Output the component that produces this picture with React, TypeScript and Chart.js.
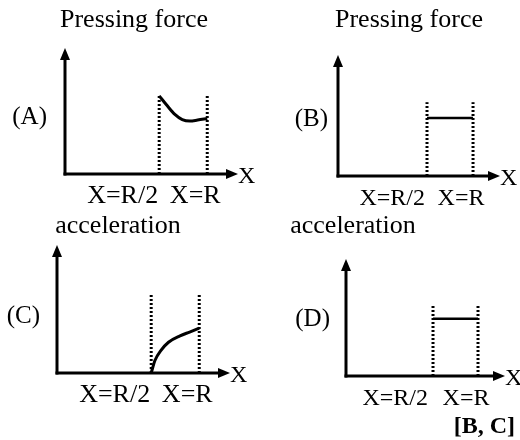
import { useEffect, useRef } from "react";
import { Chart, registerables } from "chart.js";

Chart.register(...registerables);

const SERIF = "'Liberation Serif', 'Times New Roman', Times, serif";

// ---- data ----
const panelTags = ["(A)", "(B)", "(C)", "(D)"];
const panelTitles = ["Pressing force", "Pressing force", "acceleration", "acceleration"];
const tickValues = [0.5, 1];
const tickLabels = ["X=R/2", "X=R"];
const axisName = "X";
const answerText = "[B, C]";

// (A) pressing force falling then levelling off between R/2 and R
const forceCurveX = [0.5, 0.58, 0.66, 0.74, 0.82, 0.9, 1.0];
const forceCurveY = [6.2, 5.45, 4.75, 4.32, 4.2, 4.28, 4.4];
// (B) constant pressing force
const forceLevelX = [0.5, 1.0];
const forceLevelY = [4.8, 4.8];
// (C) acceleration rising from zero
const accelCurveX = [0.5, 0.54, 0.6, 0.68, 0.8, 0.9, 1.0];
const accelCurveY = [0, 1.0, 1.75, 2.4, 2.9, 3.2, 3.5];
// (D) constant acceleration
const accelLevelX = [0.5, 1.0];
const accelLevelY = [4.9, 4.9];
// height of the dotted boundary lines at X=R/2 and X=R
const boundaryTops = [6.2, 6.1, 6.1, 6.15];

const seriesX = [forceCurveX, forceLevelX, accelCurveX, accelLevelX];
const seriesY = [forceCurveY, forceLevelY, accelCurveY, accelLevelY];

// ---- layout (page pixels) ----
type Layout = {
  left: number; top: number; width: number; height: number;
  axisX: number; axisTop: number; axisY: number; axisEnd: number;
  xMin: number; xMax: number;
  titleX: number; titleY: number;
  tagRight: number;
  tickFont: number;
  firstTickGap: number;
  smooth: boolean; lineWidth: number;
  footer: boolean;
};

const layouts: Layout[] = [
  { left: 0, top: 0, width: 260, height: 210, axisX: 65, axisTop: 48, axisY: 174, axisEnd: 238,
    xMin: -0.48, xMax: 1.32, titleX: 134, titleY: 27, tagRight: 47, tickFont: 26, firstTickGap: 1,
    smooth: true, lineWidth: 3, footer: false },
  { left: 260, top: 0, width: 260, height: 210, axisX: 338, axisTop: 55, axisY: 176, axisEnd: 500,
    xMin: -0.467, xMax: 1.293, titleX: 409, titleY: 27, tagRight: 328, tickFont: 24, firstTickGap: 2,
    smooth: false, lineWidth: 2.5, footer: false },
  { left: 0, top: 210, width: 260, height: 230, axisX: 57, axisTop: 245, axisY: 373, axisEnd: 230,
    xMin: -0.48, xMax: 1.32, titleX: 118, titleY: 233, tagRight: 40, tickFont: 26, firstTickGap: 1,
    smooth: true, lineWidth: 3, footer: false },
  { left: 260, top: 210, width: 260, height: 230, axisX: 346, axisTop: 259, axisY: 376, axisEnd: 505,
    xMin: -0.467, xMax: 1.3, titleX: 353, titleY: 233, tagRight: 330, tickFont: 24, firstTickGap: 5,
    smooth: false, lineWidth: 2.5, footer: true },
];

function makeOverlay(i: number) {
  const L = layouts[i];
  return {
    id: "schematicOverlay",
    afterDatasetsDraw(chart: Chart) {
      const ctx = chart.ctx;
      const { left, right, top, bottom } = chart.chartArea;
      const xs = chart.scales.x;
      ctx.save();
      ctx.fillStyle = "#000";
      ctx.strokeStyle = "#000";
      ctx.lineWidth = 3;
      ctx.lineCap = "butt";

      // vertical axis with arrowhead
      ctx.beginPath();
      ctx.moveTo(left, bottom + 1.5);
      ctx.lineTo(left, top + 8);
      ctx.stroke();
      ctx.beginPath();
      ctx.moveTo(left, top);
      ctx.lineTo(left - 5, top + 12);
      ctx.lineTo(left + 5, top + 12);
      ctx.closePath();
      ctx.fill();

      // horizontal axis with arrowhead
      ctx.beginPath();
      ctx.moveTo(left - 1.5, bottom);
      ctx.lineTo(right - 8, bottom);
      ctx.stroke();
      ctx.beginPath();
      ctx.moveTo(right, bottom);
      ctx.lineTo(right - 12, bottom - 5);
      ctx.lineTo(right - 12, bottom + 5);
      ctx.closePath();
      ctx.fill();

      ctx.textBaseline = "alphabetic";

      // title
      ctx.font = `26px ${SERIF}`;
      ctx.textAlign = "center";
      ctx.fillText(panelTitles[i], L.titleX - L.left, L.titleY - L.top);

      // panel tag
      ctx.font = `25px ${SERIF}`;
      ctx.textAlign = "right";
      ctx.fillText(panelTags[i], L.tagRight - L.left, bottom - 50);

      // axis name
      ctx.font = `24px ${SERIF}`;
      ctx.textAlign = "left";
      ctx.fillText(axisName, right, bottom + 9);

      // tick labels
      ctx.font = `${L.tickFont}px ${SERIF}`;
      const p0 = xs.getPixelForValue(tickValues[0]);
      const p1 = xs.getPixelForValue(tickValues[1]);
      ctx.textAlign = "right";
      ctx.fillText(tickLabels[0], p0 - L.firstTickGap, bottom + 29);
      ctx.textAlign = "center";
      ctx.fillText(tickLabels[1], p1 - 12, bottom + 29);

      if (L.footer) {
        ctx.font = `bold 24px ${SERIF}`;
        ctx.textAlign = "right";
        ctx.fillText(answerText, 515 - L.left, 433 - L.top);
      }
      ctx.restore();
    },
  };
}

function Panel({ index }: { index: number }) {
  const ref = useRef<HTMLCanvasElement | null>(null);
  const L = layouts[index];

  useEffect(() => {
    const canvas = ref.current;
    if (!canvas) return;
    const xsArr = seriesX[index];
    const ysArr = seriesY[index];
    const topY = boundaryTops[index];
    const boundary = (v: number) => ({
      data: [{ x: v, y: 0 }, { x: v, y: topY }],
      borderColor: "#000",
      borderWidth: 3,
      borderDash: [2, 2],
      pointRadius: 0,
      tension: 0,
    });
    const chart = new Chart(canvas, {
      type: "line",
      data: {
        datasets: [
          boundary(tickValues[0]),
          boundary(tickValues[1]),
          {
            data: xsArr.map((x, k) => ({ x, y: ysArr[k] })),
            borderColor: "#000",
            borderWidth: L.lineWidth,
            pointRadius: 0,
            cubicInterpolationMode: L.smooth ? "monotone" : "default",
            tension: L.smooth ? 0.4 : 0,
          },
        ],
      },
      options: {
        responsive: false,
        animation: false,
        devicePixelRatio: 1,
        layout: {
          padding: {
            left: L.axisX - L.left,
            top: L.axisTop - L.top,
            right: L.left + L.width - L.axisEnd,
            bottom: L.top + L.height - L.axisY,
          },
        },
        plugins: { legend: { display: false }, tooltip: { enabled: false }, title: { display: false } },
        scales: {
          x: { type: "linear", display: false, min: L.xMin, max: L.xMax },
          y: { type: "linear", display: false, min: 0, max: 10 },
        },
      },
      plugins: [makeOverlay(index)],
    } as any);
    return () => chart.destroy();
  }, [index]);

  return (
    <canvas
      ref={ref}
      width={L.width}
      height={L.height}
      style={{ position: "absolute", left: L.left, top: L.top, width: L.width, height: L.height }}
    />
  );
}

export default function App() {
  return (
    <div style={{ position: "fixed", left: 0, top: 0, width: 520, height: 440, background: "#fff" }}>
      {layouts.map((_, i) => (
        <Panel key={i} index={i} />
      ))}
    </div>
  );
}
